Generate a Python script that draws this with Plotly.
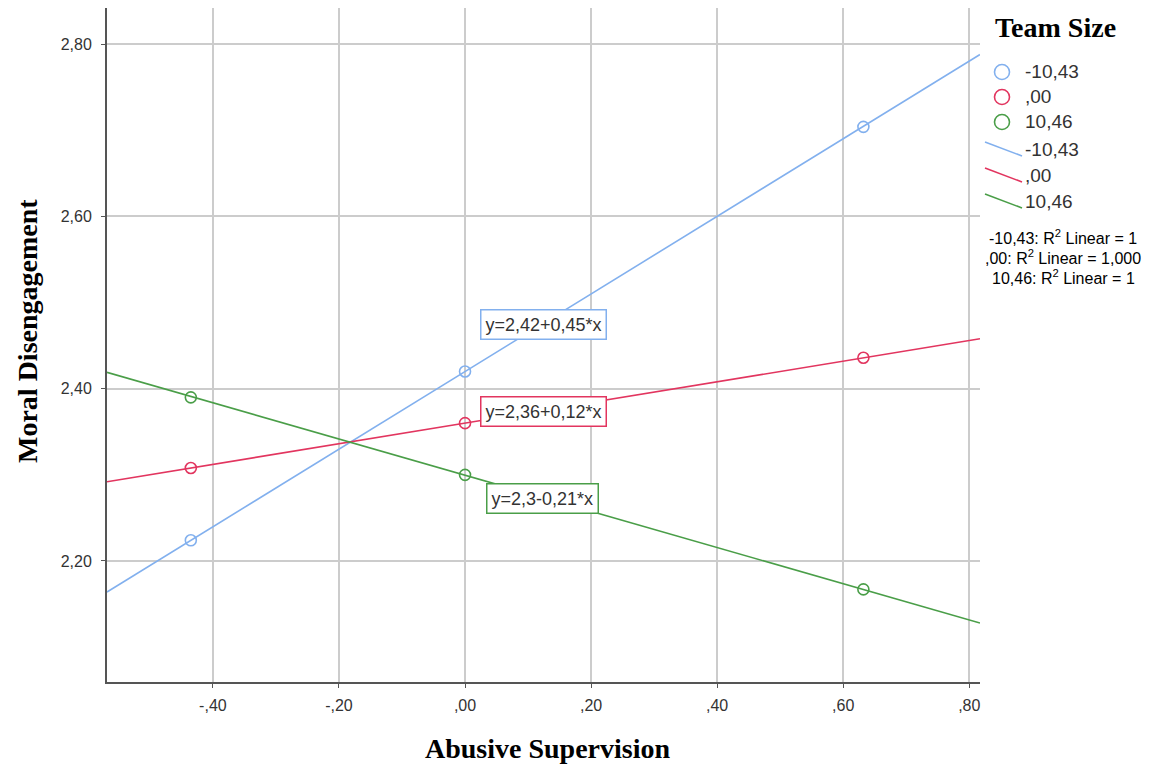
import plotly.graph_objects as go

# ---------------- data ----------------
team_size_levels = ["-10,43", ",00", "10,46"]
abuse_x = [-0.435, 0.0, 0.632]
md_low = [2.224, 2.420, 2.704]
md_mid = [2.308, 2.360, 2.436]
md_high = [2.390, 2.300, 2.167]
fit_x = [-0.568, 0.817]
fit_low = [2.164, 2.788]
fit_mid = [2.292, 2.458]
fit_high = [2.419, 2.128]
equations = ["y=2,42+0,45*x", "y=2,36+0,12*x", "y=2,3-0,21*x"]
r2_labels = ["-10,43: R<sup>2</sup> Linear = 1",
             ",00: R<sup>2</sup> Linear = 1,000",
             "10,46: R<sup>2</sup> Linear = 1"]
x_tickvals = [-0.4, -0.2, 0.0, 0.2, 0.4, 0.6, 0.8]
x_ticktext = ["-,40", "-,20", ",00", ",20", ",40", ",60", ",80"]
y_tickvals = [2.2, 2.4, 2.6, 2.8]
y_ticktext = ["2,20", "2,40", "2,60", "2,80"]

colors = ["#82b0ee", "#e2355f", "#4a9e48"]

# ---------------- layout geometry (page pixels) ----------------
OFF = 8                      # browser body margin
W, H = 1155 - OFF, 765 - OFF
L, R, T, B = 107, 980, 8, 682   # plot area in page pixels


def px(X):
    return (X - L) / (R - L)


def py(Y):
    return (B - Y) / (B - T)


sans = "Liberation Sans, Arial, sans-serif"
serif = "Liberation Serif, Times New Roman, serif"

fig = go.Figure()
series = [md_low, md_mid, md_high]
fits = [fit_low, fit_mid, fit_high]
for i in range(3):
    fig.add_trace(go.Scatter(x=fit_x, y=fits[i], mode="lines",
                             line=dict(color=colors[i], width=1.6),
                             showlegend=False, hoverinfo="skip"))
for i in range(3):
    fig.add_trace(go.Scatter(x=abuse_x, y=series[i], mode="markers",
                             marker=dict(symbol="circle-open", size=11,
                                         color=colors[i], line=dict(width=1.6)),
                             showlegend=False))

annotations = []
# equation boxes
eq_pos = [(0.125, 2.475), (0.125, 2.374), (0.1235, 2.273)]
for i in range(3):
    annotations.append(dict(x=eq_pos[i][0], y=eq_pos[i][1], xref="x", yref="y",
                            xanchor="center", yanchor="middle",
                            text=equations[i], showarrow=False,
                            font=dict(family=sans, size=18, color="#333333"),
                            bgcolor="white", bordercolor=colors[i], borderwidth=1.5,
                            borderpad=4))

# axis titles and legend title
annotations.append(dict(x=px(547), y=py(748), xref="paper", yref="paper",
                        xanchor="center", yanchor="middle",
                        text="<b>Abusive Supervision</b>", showarrow=False,
                        font=dict(family=serif, size=28, color="black")))
annotations.append(dict(x=px(28), y=py(331), xref="paper", yref="paper",
                        xanchor="center", yanchor="middle",
                        text="<b>Moral Disengagement</b>", showarrow=False, textangle=-90,
                        font=dict(family=serif, size=28, color="black")))
annotations.append(dict(x=px(1055), y=py(27), xref="paper", yref="paper",
                        xanchor="center", yanchor="middle",
                        text="<b>Team Size</b>", showarrow=False,
                        font=dict(family=serif, size=28, color="black")))

shapes = []
# legend: markers
marker_y = [72, 97, 122]
for i in range(3):
    shapes.append(dict(type="circle", xref="paper", yref="paper",
                       xsizemode="pixel", ysizemode="pixel",
                       xanchor=px(1002), yanchor=py(marker_y[i]),
                       x0=-7.5, x1=7.5, y0=-7.5, y1=7.5,
                       line=dict(color=colors[i], width=1.6)))
    annotations.append(dict(x=px(1023), y=py(marker_y[i]), xref="paper", yref="paper",
                            xanchor="left", yanchor="middle",
                            text=team_size_levels[i], showarrow=False,
                            font=dict(family=sans, size=19, color="#333333")))
# legend: lines
line_y = [150, 176, 202]
for i in range(3):
    shapes.append(dict(type="line", xref="paper", yref="paper",
                       x0=px(985), x1=px(1022), y0=py(line_y[i] - 8), y1=py(line_y[i] + 6),
                       line=dict(color=colors[i], width=1.6)))
    annotations.append(dict(x=px(1023), y=py(line_y[i]), xref="paper", yref="paper",
                            xanchor="left", yanchor="middle",
                            text=team_size_levels[i], showarrow=False,
                            font=dict(family=sans, size=19, color="#333333")))
# R2 texts
r2_y = [237, 257, 277]
for i in range(3):
    annotations.append(dict(x=px(1063), y=py(r2_y[i]), xref="paper", yref="paper",
                            xanchor="center", yanchor="middle",
                            text=r2_labels[i], showarrow=False,
                            font=dict(family=sans, size=16, color="black")))

fig.update_layout(
    width=W, height=H,
    margin=dict(l=L - OFF, r=W - (R - OFF), t=T - OFF, b=H - (B - OFF), pad=0),
    paper_bgcolor="white", plot_bgcolor="white",
    showlegend=False,
    annotations=annotations, shapes=shapes,
    font=dict(family=sans, color="#333333"),
)
fig.update_xaxes(range=[fit_x[0], fit_x[1]], tickvals=x_tickvals, ticktext=x_ticktext,
                 showgrid=True, gridcolor="#cccccc", gridwidth=1.5,
                 showline=True, linecolor="#555555", linewidth=2,
                 ticks="outside", ticklen=4, tickcolor="#555555",
                 ticklabelstandoff=4,
                 tickfont=dict(family=sans, size=16, color="#333333"), zeroline=False)
fig.update_yaxes(range=[2.0595, 2.842], tickvals=y_tickvals, ticktext=y_ticktext,
                 showgrid=True, gridcolor="#cccccc", gridwidth=1.5,
                 showline=True, linecolor="#555555", linewidth=2,
                 ticks="outside", ticklen=4, tickcolor="#555555",
                 ticklabelstandoff=6,
                 tickfont=dict(family=sans, size=16, color="#333333"), zeroline=False)

fig.write_html("out.html")
